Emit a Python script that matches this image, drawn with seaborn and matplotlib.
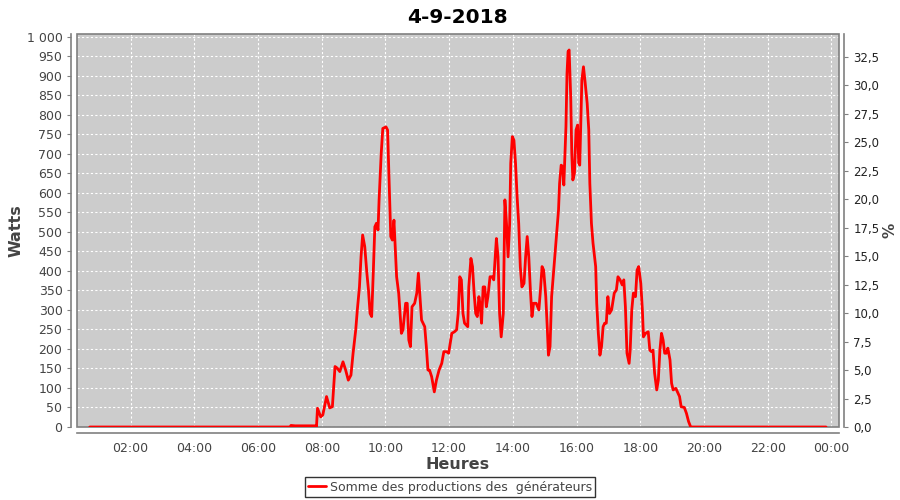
import matplotlib

matplotlib.use("Agg")

import matplotlib.dates as mdates
import matplotlib.pyplot as plt
import pandas as pd
import seaborn as sns
from matplotlib.patches import Rectangle
from matplotlib.ticker import FuncFormatter, MultipleLocator

DAY = "2018-09-04"
TITLE = "4-9-2018"
SERIES_NAME = "Somme des productions des  générateurs"

times = [
    "00:43", "01:30", "02:00", "03:00", "04:00", "05:00", "06:00", "07:00",
    "07:02", "07:10", "07:30", "07:48", "07:50", "07:52", "07:58", "08:02",
    "08:09", "08:15", "08:20", "08:25", "08:29", "08:34", "08:40", "08:45",
    "08:50", "08:55", "08:59", "09:04", "09:07", "09:11", "09:14", "09:17",
    "09:21", "09:25", "09:28", "09:31", "09:34", "09:37", "09:40", "09:43",
    "09:46", "09:48", "09:52", "09:55", "10:01", "10:04", "10:07", "10:10",
    "10:13", "10:16", "10:21", "10:25", "10:30", "10:33", "10:38", "10:41",
    "10:44", "10:47", "10:50", "10:55", "10:59", "11:02", "11:05", "11:08",
    "11:14", "11:17", "11:20", "11:23", "11:27", "11:32", "11:36", "11:41",
    "11:46", "11:50", "11:55", "11:59", "12:05", "12:10", "12:14", "12:17",
    "12:20", "12:23", "12:26", "12:29", "12:35", "12:37", "12:41", "12:44",
    "12:47", "12:50", "12:53", "12:56", "12:58", "13:01", "13:04", "13:07",
    "13:10", "13:13", "13:17", "13:21", "13:24", "13:29", "13:32", "13:35",
    "13:38", "13:42", "13:45", "13:48", "13:51", "13:54", "13:56", "13:59",
    "14:02", "14:05", "14:08", "14:11", "14:14", "14:17", "14:21", "14:24",
    "14:27", "14:30", "14:33", "14:36", "14:39", "14:44", "14:49", "14:52",
    "14:55", "14:58", "15:02", "15:05", "15:07", "15:10", "15:13", "15:16",
    "15:20", "15:23", "15:26", "15:28", "15:31", "15:34", "15:36", "15:40",
    "15:42", "15:44", "15:46", "15:49", "15:51", "15:53", "15:56", "15:59",
    "16:02", "16:04", "16:06", "16:10", "16:13", "16:16", "16:20", "16:23",
    "16:25", "16:28", "16:31", "16:36", "16:38", "16:41", "16:44", "16:47",
    "16:50", "16:53", "16:56", "16:59", "17:02", "17:06", "17:11", "17:15",
    "17:18", "17:22", "17:26", "17:29", "17:32", "17:35", "17:39", "17:41",
    "17:44", "17:47", "17:51", "17:54", "17:57", "18:01", "18:04", "18:06",
    "18:10", "18:15", "18:18", "18:21", "18:24", "18:27", "18:31", "18:34",
    "18:37", "18:40", "18:43", "18:46", "18:49", "18:52", "18:56", "18:59",
    "19:02", "19:07", "19:10", "19:14", "19:17", "19:23", "19:27", "19:31",
    "19:35", "20:00", "21:00", "22:00", "23:00", "23:50",
]
watts = [
    0, 0, 0, 0, 0, 0, 0, 0,
    4, 3, 3, 3, 0, 48, 26, 31,
    78, 49, 52, 155, 151, 142, 167, 146,
    120, 133, 189, 249, 300, 359, 436, 492,
    462, 394, 351, 291, 283, 394, 513, 522,
    505, 582, 701, 765, 769, 761, 624, 488,
    479, 530, 385, 342, 240, 249, 317, 317,
    223, 206, 308, 317, 343, 394, 334, 274,
    257, 206, 146, 146, 129, 90, 120, 146,
    163, 193, 193, 189, 240, 244, 249, 291,
    385, 377, 291, 266, 257, 359, 432, 411,
    343, 291, 283, 334, 317, 266, 359, 359,
    308, 334, 385, 385, 377, 483, 436, 291,
    231, 291, 582, 522, 436, 522, 676, 744,
    735, 676, 590, 522, 411, 359, 368, 436,
    488, 436, 351, 283, 317, 317, 300, 351,
    411, 402, 334, 249, 184, 206, 334, 385,
    453, 505, 556, 624, 671, 667, 620, 769,
    906, 962, 966, 846, 701, 633, 650, 761,
    774, 676, 671, 889, 923, 885, 829, 761,
    624, 522, 471, 411, 317, 240, 184, 206,
    257, 266, 266, 334, 291, 300, 343, 351,
    385, 377, 364, 377, 308, 189, 163, 197,
    300, 343, 334, 402, 411, 368, 300, 231,
    240, 244, 197, 193, 197, 138, 95, 120,
    197, 240, 223, 189, 189, 202, 172, 112,
    95, 99, 90, 78, 52, 50, 35, 14,
    0, 0, 0, 0, 0, 0,
]

watt_ticks = list(range(0, 1001, 50))
percent_max = 34.5
x_start = "00:19"
x_end_next_day = "00:14"

BACKGROUND = "#cccccc"
TEXT_GRAY = "#444444"
AXIS_GRAY = "#808080"


def main() -> None:
    sns.set_style("white")
    plt.rcParams["font.family"] = ["DejaVu Sans"]

    df = pd.DataFrame(
        {"Heure": pd.to_datetime([f"{DAY} {t}" for t in times]), "Watts": watts}
    )

    fig = plt.figure(figsize=(9, 5), dpi=100)
    ax = fig.add_axes([0.0856, 0.146, 0.8464, 0.786])
    ax.set_facecolor(BACKGROUND)

    sns.lineplot(data=df, x="Heure", y="Watts", color="#ff0000", linewidth=2,
                 ax=ax, label=SERIES_NAME, legend=False, zorder=4)

    day0 = pd.Timestamp(DAY)
    ax.set_xlim(pd.Timestamp(f"{DAY} {x_start}"),
                day0 + pd.Timedelta(days=1) + pd.Timedelta(x_end_next_day + ":00"))
    ax.set_ylim(0, 1007)
    ax.set_yticks(watt_ticks)
    ax.yaxis.set_major_formatter(
        FuncFormatter(lambda v, _: f"{int(v):,}".replace(",", " "))
    )
    ax.xaxis.set_major_locator(mdates.HourLocator(byhour=range(0, 24, 2)))
    ax.xaxis.set_major_formatter(mdates.DateFormatter("%H:%M"))

    ax.grid(True, color="white", linestyle=(0, (2, 2)), linewidth=0.8)
    ax.set_axisbelow(True)

    for side in ["top", "right"]:
        ax.spines[side].set_visible(False)
    for side in ["left", "bottom"]:
        ax.spines[side].set_position(("outward", 4))
        ax.spines[side].set_color(AXIS_GRAY)
        ax.spines[side].set_linewidth(1.2)
    # contour de la zone de tracé, sous la courbe
    ax.add_patch(Rectangle((0, 0), 1, 1, transform=ax.transAxes, fill=False,
                           edgecolor=AXIS_GRAY, linewidth=1.2, clip_on=False, zorder=3))

    ax.tick_params(axis="both", colors=AXIS_GRAY, labelcolor=TEXT_GRAY,
                   labelsize=9, length=3, direction="out")

    ax.set_xlabel("Heures", fontsize=11.5, fontweight="bold", color=TEXT_GRAY, labelpad=2)
    ax.set_ylabel("Watts", fontsize=11.5, fontweight="bold", color=TEXT_GRAY, labelpad=2)
    ax.set_title(TITLE, fontsize=14.5, fontweight="bold", color="black", pad=8)

    ax2 = ax.twinx()
    ax2.set_ylim(0, percent_max)
    ax2.yaxis.set_major_locator(MultipleLocator(2.5))
    ax2.yaxis.set_major_formatter(FuncFormatter(lambda v, _: f"{v:.1f}".replace(".", ",")))
    for side in ["top", "left", "bottom"]:
        ax2.spines[side].set_visible(False)
    ax2.spines["right"].set_position(("outward", 4))
    ax2.spines["right"].set_color(AXIS_GRAY)
    ax2.spines["right"].set_linewidth(1.2)
    ax2.tick_params(axis="y", colors=AXIS_GRAY, labelcolor="#222222",
                    labelsize=8.5, length=3, direction="out")
    ax2.set_ylabel("%", fontsize=11, fontweight="bold", color=TEXT_GRAY, labelpad=2)

    handles, labels = ax.get_legend_handles_labels()
    leg = fig.legend(handles, labels, loc="center", bbox_to_anchor=(0.5, 0.026),
                     frameon=True, fancybox=False, fontsize=9, handlelength=1.4,
                     handletextpad=0.3, borderpad=0.3, borderaxespad=0)
    leg.get_frame().set_edgecolor("black")
    leg.get_frame().set_linewidth(1.0)
    for text in leg.get_texts():
        text.set_color(TEXT_GRAY)

    fig.savefig("out.png", dpi=100)
    plt.close(fig)


if __name__ == "__main__":
    main()
